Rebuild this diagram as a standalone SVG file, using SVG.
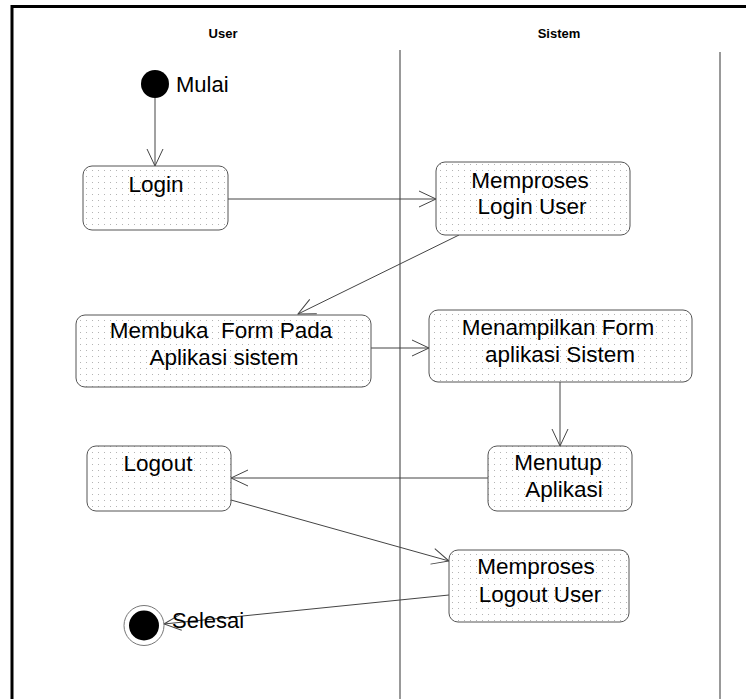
<svg xmlns="http://www.w3.org/2000/svg" width="746" height="699" viewBox="0 0 746 699">
<style>
.node rect{fill:url(#dots);stroke:#555;stroke-width:1}
.t{font-family:"Liberation Sans",Arial,sans-serif;font-size:22.5px;fill:#000;text-anchor:middle}
.lbl{font-family:"Liberation Sans",Arial,sans-serif;font-size:22px;fill:#000}
.hdr{font-family:"Liberation Sans",Arial,sans-serif;font-size:13px;font-weight:bold;fill:#000;text-anchor:middle}
.conn line{stroke:#444;stroke-width:1;marker-end:url(#arr)}
.lane{stroke:#777;stroke-width:1.5}
</style>
<defs>
<pattern id="dots" patternUnits="userSpaceOnUse" width="6" height="6">
<rect width="6" height="6" fill="#fff"/>
<rect x="2" y="2" width="1" height="1" fill="#b4b4b4"/>
</pattern>
<marker id="arr" markerUnits="userSpaceOnUse" markerWidth="20" markerHeight="20" viewBox="-18 -10 20 20" refX="0" refY="0" orient="auto">
<path d="M-17,-8 L0,0 L-17,8" fill="none" stroke="#444" stroke-width="1"/>
</marker>
</defs>
<rect width="746" height="699" fill="#fff"/>
<g id="frame">
<line x1="12" y1="6.5" x2="746" y2="6.5" stroke="#000" stroke-width="3"/>
<line x1="12" y1="5" x2="12" y2="699" stroke="#000" stroke-width="3"/>
<line class="lane" x1="400" y1="50" x2="400" y2="699"/>
<line class="lane" x1="720" y1="52" x2="720" y2="699"/>
<text class="hdr" x="223" y="38">User</text>
<text class="hdr" x="559" y="38">Sistem</text>
</g>
<g id="conn" class="conn">
<line x1="155" y1="98" x2="155" y2="166"/>
<line x1="228" y1="199" x2="436" y2="199"/>
<line x1="459" y1="235" x2="298" y2="314"/>
<line x1="371" y1="348" x2="429" y2="348"/>
<line x1="560" y1="382" x2="560" y2="446"/>
<line x1="488" y1="478" x2="231" y2="478"/>
<line x1="231" y1="500" x2="449" y2="561"/>
<line x1="449" y1="595" x2="164" y2="624"/>
</g>
<g id="start">
<circle cx="155" cy="84" r="14" fill="#000"/>
<text class="lbl" x="176" y="92">Mulai</text>
</g>
<g id="login" class="node">
<rect x="83" y="166" width="145" height="64" rx="9"/>
<text class="t" x="156" y="192">Login</text>
</g>
<g id="proses-login" class="node">
<rect x="436" y="162" width="194" height="73" rx="9"/>
<text class="t" x="530" y="188">Memproses</text>
<text class="t" x="532" y="214">Login User</text>
</g>
<g id="membuka" class="node">
<rect x="76" y="315" width="295" height="72" rx="9"/>
<text class="t" x="221" y="338" xml:space="preserve">Membuka  Form Pada</text>
<text class="t" x="224" y="365">Aplikasi sistem</text>
</g>
<g id="menampilkan" class="node">
<rect x="429" y="310" width="263" height="72" rx="9"/>
<text class="t" x="558" y="335">Menampilkan Form</text>
<text class="t" x="560" y="362">aplikasi Sistem</text>
</g>
<g id="menutup" class="node">
<rect x="488" y="446" width="144" height="65" rx="9"/>
<text class="t" x="558" y="470">Menutup</text>
<text class="t" x="564" y="497">Aplikasi</text>
</g>
<g id="logout" class="node">
<rect x="87" y="446" width="144" height="65" rx="9"/>
<text class="t" x="158" y="471">Logout</text>
</g>
<g id="proses-logout" class="node">
<rect x="449" y="550" width="180" height="72" rx="9"/>
<text class="t" x="536" y="574">Memproses</text>
<text class="t" x="540" y="602">Logout User</text>
</g>
<g id="end">
<circle cx="144" cy="625.5" r="20" fill="#fff" stroke="#777" stroke-width="1"/>
<circle cx="144" cy="625.5" r="15" fill="#000"/>
<text class="lbl" x="172" y="628">Selesai</text>
</g>
</svg>
